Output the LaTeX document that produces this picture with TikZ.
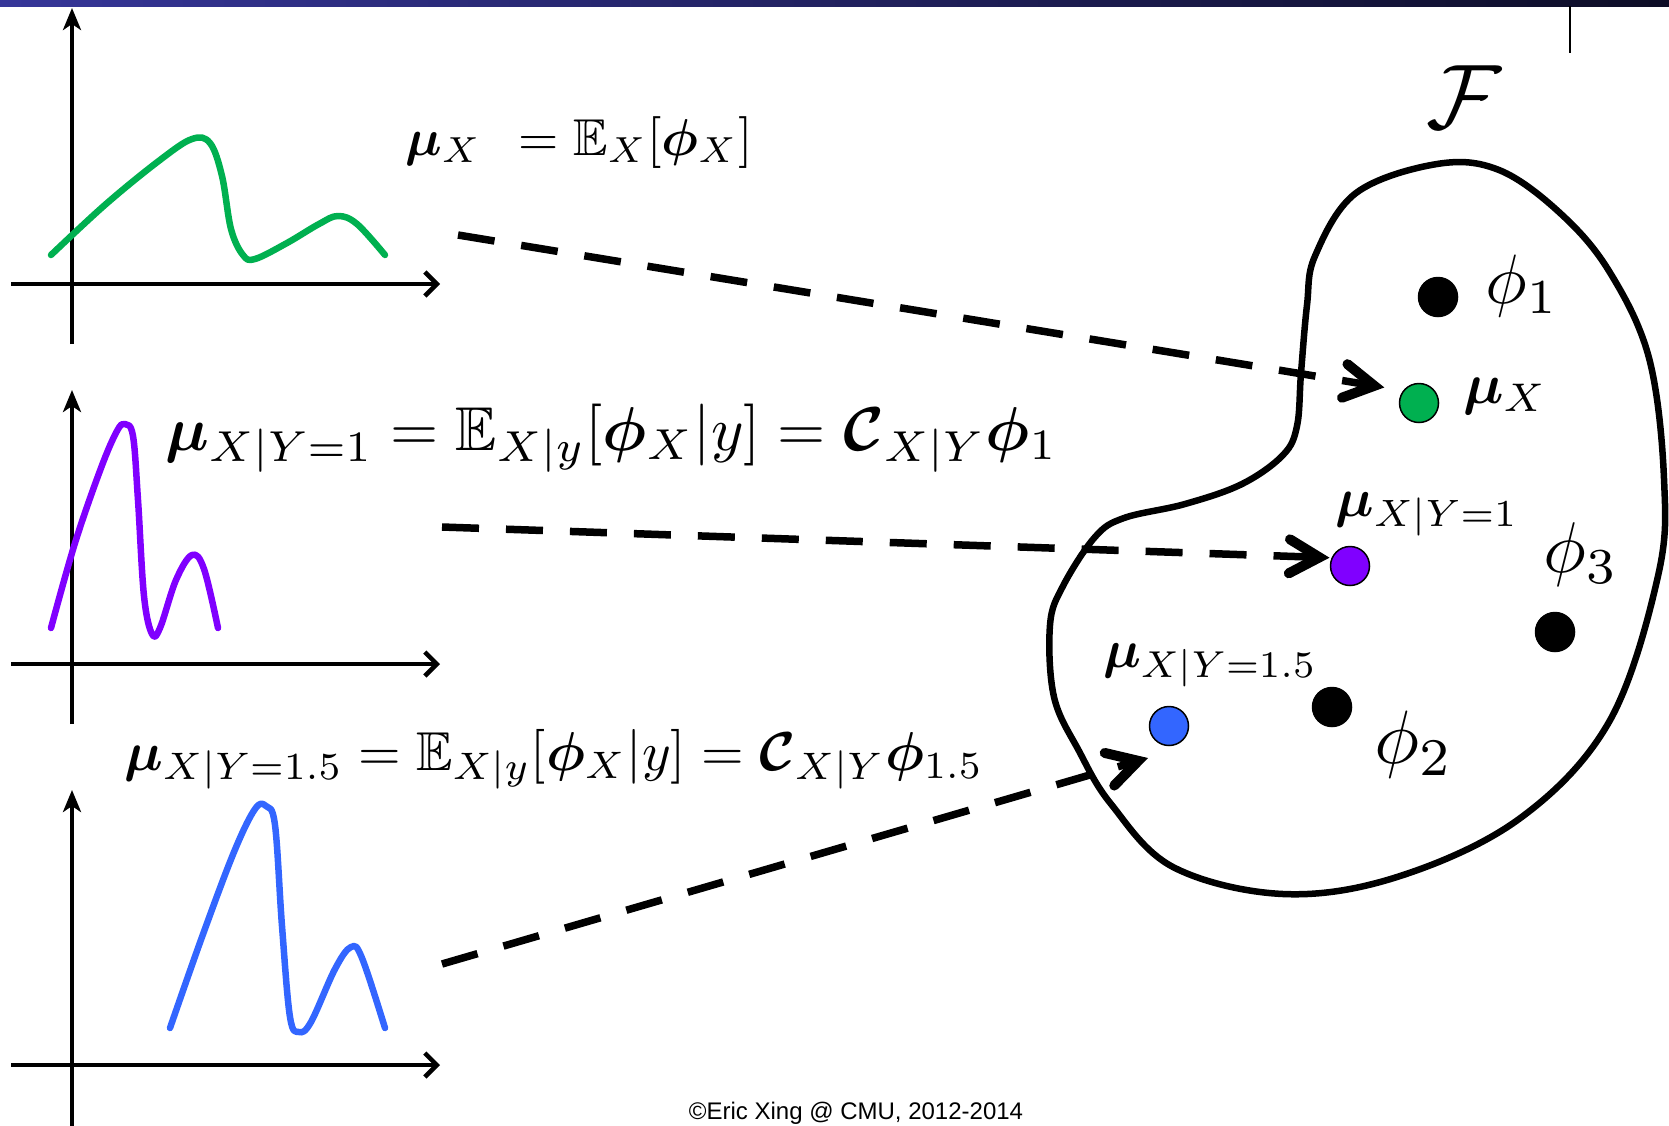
\documentclass[tikz,border=0pt]{standalone}
\usepackage{amsmath,amssymb,bm}
\usepackage{fontspec}
\newfontfamily\footfont{Liberation Sans}
\usetikzlibrary{arrows.meta}
\definecolor{cgreen}{HTML}{00B050}
\definecolor{cpurple}{HTML}{8000FF}
\definecolor{cblue}{HTML}{3366FF}
\definecolor{barL}{HTML}{363699}
\definecolor{barR}{HTML}{0D0D26}
\newcommand{\fitw}[2]{\resizebox{#1}{!}{$\displaystyle #2$}}
\begin{document}
\begin{tikzpicture}[x=0.5pt,y=-0.5pt,
  axis/.style={line width=2.25pt},
  yaxis/.style={axis,-{Stealth[length=11pt,width=9pt,inset=3pt]}},
  xaxis/.style={axis,-{Straight Barb[length=6pt,width=12pt]}},
  curve/.style={line width=3.25pt,line cap=round,line join=round},
  maparrow/.style={line width=3.75pt,dash pattern=on 18.5pt off 13.5pt,
     -{Straight Barb[length=15pt,width=17pt,line width=5pt,line cap=round,line join=miter]}},
  dot/.style={circle,draw=black,line width=0.75pt,minimum size=19.5pt,inner sep=0pt},
  lbl/.style={inner sep=0pt},
]
\useasboundingbox (0,0) rectangle (1669,1125);
% top bar
\shade[left color=barL,right color=barR] (0,0) rectangle (1669,6);
\draw[line width=1pt] (1570,6) -- (1570,53);

% plot 1
\draw[yaxis] (72,344) -- (72,8);
\draw[xaxis] (11,284) -- (440,284);
\draw[curve,cgreen] plot[smooth,tension=0.6] coordinates {(51,255) (106,204) (160,160) (192,139) (210,143) (222,176) (231,229) (243,255) (255,259) (287,243) (319,224) (338,216) (357,224) (385,255)};

% plot 2
\draw[yaxis] (72,724) -- (72,390);
\draw[xaxis] (11,664) -- (440,664);
\draw[curve,cpurple] plot[smooth,tension=0.6] coordinates {(51,628) (75,543) (101,468) (117,431) (125,424) (133,436) (138,500) (144,596) (152,634) (160,628) (176,580) (192,555) (204,569) (218,628)};

% plot 3
\draw[yaxis] (72,1130) -- (72,790);
\draw[xaxis] (11,1065) -- (440,1065);
\draw[curve,cblue] plot[smooth,tension=0.6] coordinates {(170,1028) (202,937) (234,852) (255,809) (266,806) (275,825) (282,926) (290,1017) (299,1032) (311,1022) (335,969) (351,947) (362,958) (385,1028)};

% formulas
\node[lbl,anchor=base west] (f1) at (405,155) {\fitw{173.5pt}{\bm{\mu}_X\;\, = \mathbb{E}_X[\bm{\phi}_X]}};
\node[lbl,anchor=base west] (f2) at (165,450) {\fitw{446pt}{\bm{\mu}_{X|Y=1} = \mathbb{E}_{X|y}[\bm{\phi}_X|y] = \bm{\mathcal{C}}_{X|Y}\bm{\phi}_1}};
\node[lbl,anchor=base west] (f3) at (124,770) {\fitw{429.5pt}{\bm{\mu}_{X|Y=1.5} = \mathbb{E}_{X|y}[\bm{\phi}_X|y] = \bm{\mathcal{C}}_{X|Y}\bm{\phi}_{1.5}}};

% feature space
\draw[line width=3.25pt] plot[smooth cycle,tension=0.6] coordinates {(1437,164) (1499,170) (1560,213) (1609,271) (1649,358) (1664,479) (1658,576) (1609,722) (1519,819) (1397,877) (1283,894) (1173,867) (1111,804) (1079,751) (1054,697) (1050,625) (1063,586) (1095,537) (1124,518) (1185,504) (1242,484) (1283,455) (1297,426) (1301,373) (1307,305) (1315,256) (1356,193)};
\node[lbl] (F) at (1464,97) {\fitw{37.5pt}{\mathcal{F}}};

\node[dot,fill=black] (phi1dot) at (1438,297) {};
\node[dot,fill=cgreen] (muX) at (1419,403) {};
\node[dot,fill=cpurple] (mu1) at (1350,566) {};
\node[dot,fill=black] (phi3dot) at (1555,632) {};
\node[dot,fill=cblue] (mu15) at (1169,726) {};
\node[dot,fill=black] (phi2dot) at (1332,707) {};

\node[lbl] (phi1lbl) at (1522,286) {\fitw{36.5pt}{\phi_1}};
\node[lbl] (muXlbl) at (1505,396) {\fitw{42pt}{\bm{\mu}_X}};
\node[lbl] (mu1lbl) at (1427,514) {\fitw{91.5pt}{\bm{\mu}_{X|Y=1}}};
\node[lbl] (phi3lbl) at (1581,555) {\fitw{37.5pt}{\phi_3}};
\node[lbl] (mu15lbl) at (1210,665) {\fitw{107pt}{\bm{\mu}_{X|Y=1.5}}};
\node[lbl] (phi2lbl) at (1414,745) {\fitw{39.5pt}{\phi_2}};

% mapping arrows
\coordinate (s1) at (458,235);
\coordinate (s2) at (442,527);
\coordinate (s3) at (442,964);
\coordinate (t3) at (1148,758);
\draw[maparrow,shorten >=9.5pt] (s1) -- (muX.142);
\draw[maparrow,shorten >=1pt] (s2) -- (mu1.156);
\draw[maparrow] (s3) -- (t3);

% footer
\node[inner sep=0pt,anchor=base,font=\footfont\fontsize{12}{14}\selectfont] (foot) at (856,1119) {©Eric Xing @ CMU, 2012-2014};
\end{tikzpicture}
\end{document}
